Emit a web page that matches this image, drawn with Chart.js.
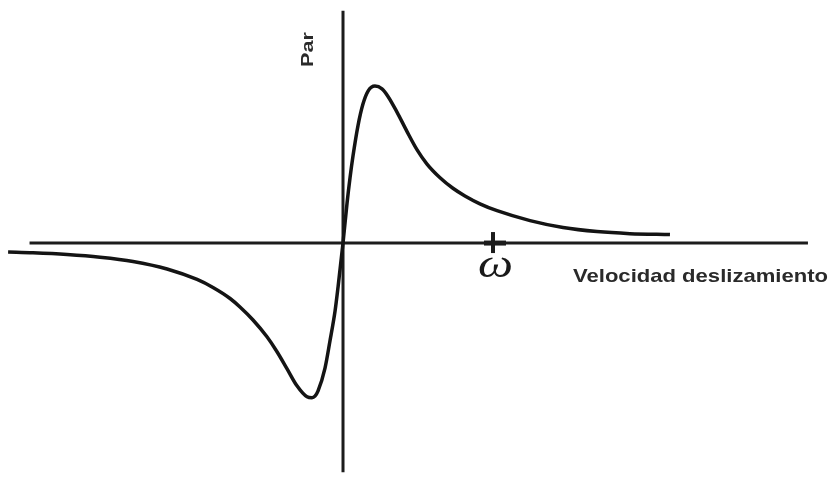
<!DOCTYPE html>
<html>
<head>
<meta charset="utf-8">
<title>Par - Velocidad deslizamiento</title>
<script src="https://cdn.jsdelivr.net/npm/chart.js@4/dist/chart.umd.min.js"></script>
<style>
  html, body { margin: 0; padding: 0; background: #fff; }
  #wrap { width: 830px; height: 477px; }
</style>
</head>
<body>
<div id="wrap"><canvas id="torque-chart" width="830" height="477"></canvas></div>
<script>
// ===== Curva par / velocidad de deslizamiento =====
// slip speed normalised so that omega = 1, torque normalised to the peak
const slipValues = [
    -2.233, -2.067, -1.840, -1.620, -1.400, -1.173, -0.973, -0.867, -0.753, -0.687,
    -0.600, -0.507, -0.440, -0.373, -0.307, -0.240, -0.207, -0.187, -0.167, -0.120,
    -0.087, -0.053, -0.033, 0,
    0.027, 0.047, 0.067, 0.100, 0.133, 0.167, 0.213, 0.260, 0.300, 0.360,
    0.427, 0.493, 0.560, 0.647, 0.733, 0.813, 0.913, 1.027, 1.247, 1.467,
    1.693, 1.913, 2.180
];
const torqueValues = [
    -0.057, -0.062, -0.073, -0.090, -0.117, -0.165, -0.232, -0.283, -0.353, -0.407,
    -0.490, -0.597, -0.692, -0.801, -0.909, -0.979, -0.985, -0.975, -0.943, -0.796,
    -0.624, -0.433, -0.280, 0,
    0.255, 0.417, 0.557, 0.748, 0.885, 0.968, 1.0, 0.982, 0.934, 0.834,
    0.710, 0.595, 0.503, 0.416, 0.349, 0.300, 0.250, 0.206, 0.143, 0.099,
    0.073, 0.060, 0.054
];

// axis extents and marked slip value
const xAxisSpan = [-2.09, 3.10];
const yAxisSpan = [-1.46, 1.48];
const omegaTick = 1;

const curvePoints = slipValues.map(function(s, i) {
    return { x: s, y: torqueValues[i] };
});

// draw text stretched horizontally to a given width
function fillStretched(ctx, text, x, y, width) {
    const natural = ctx.measureText(text).width;
    ctx.save();
    ctx.translate(x, y);
    ctx.scale(width / natural, 1);
    ctx.fillText(text, 0, 0);
    ctx.restore();
}

// ===== Axis lines, tick and labels =====
const axesPlugin = {
    id: "axesPlugin",
    beforeDatasetsDraw: function(chart) {
        const ctx = chart.ctx;
        const xs = chart.scales.x;
        const ys = chart.scales.y;
        const x0 = xs.getPixelForValue(0);
        const y0 = ys.getPixelForValue(0);

        ctx.save();
        ctx.strokeStyle = "#1c1c1c";
        ctx.lineWidth = 3;
        ctx.beginPath();
        ctx.moveTo(xs.getPixelForValue(xAxisSpan[0]), y0);
        ctx.lineTo(xs.getPixelForValue(xAxisSpan[1]), y0);
        ctx.moveTo(x0, ys.getPixelForValue(yAxisSpan[1]));
        ctx.lineTo(x0, ys.getPixelForValue(yAxisSpan[0]));
        ctx.stroke();

        // cross mark at omega
        const xw = xs.getPixelForValue(omegaTick);
        ctx.lineWidth = 4;
        ctx.beginPath();
        ctx.moveTo(xw, y0 - 11);
        ctx.lineTo(xw, y0 + 10);
        ctx.stroke();
        ctx.lineWidth = 5;
        ctx.beginPath();
        ctx.moveTo(xw - 9, y0);
        ctx.lineTo(xw + 13, y0);
        ctx.stroke();
        ctx.restore();
    },
    afterDraw: function(chart) {
        const ctx = chart.ctx;
        const xs = chart.scales.x;
        const ys = chart.scales.y;
        const x0 = xs.getPixelForValue(0);
        const y0 = ys.getPixelForValue(0);
        const xw = xs.getPixelForValue(omegaTick);

        ctx.save();
        ctx.fillStyle = "#1a1a1a";
        ctx.textBaseline = "alphabetic";

        // omega symbol
        ctx.font = "italic 40px 'Liberation Serif', serif";
        ctx.textAlign = "left";
        fillStretched(ctx, "\u03C9", xw - 15, y0 + 34, 35);

        // horizontal axis title
        ctx.fillStyle = "#2a2a2a";
        ctx.font = "bold 19px 'Liberation Sans', Arial, sans-serif";
        fillStretched(ctx, "Velocidad deslizamiento", 573, y0 + 39, 255);

        // vertical axis title
        ctx.translate(x0 - 30, 67);
        ctx.rotate(-Math.PI / 2);
        ctx.font = "bold 17px 'Liberation Sans', Arial, sans-serif";
        fillStretched(ctx, "Par", 0, 0, 35);
        ctx.restore();
    }
};

// ===== Chart =====
const ctx = document.getElementById("torque-chart").getContext("2d");

new Chart(ctx, {
    type: "scatter",
    data: {
        datasets: [{
            data: curvePoints,
            showLine: true,
            borderColor: "#141414",
            borderWidth: 3.5,
            pointRadius: 0,
            cubicInterpolationMode: "monotone",
            fill: false,
        }],
    },
    options: {
        responsive: false,
        animation: false,
        layout: { padding: 0 },
        plugins: {
            legend: { display: false },
            tooltip: { enabled: false },
        },
        scales: {
            x: { type: "linear", min: -2.287, max: 3.247, display: false },
            y: { type: "linear", min: -1.490, max: 1.548, display: false },
        },
    },
    plugins: [axesPlugin],
});
</script>
</body>
</html>
